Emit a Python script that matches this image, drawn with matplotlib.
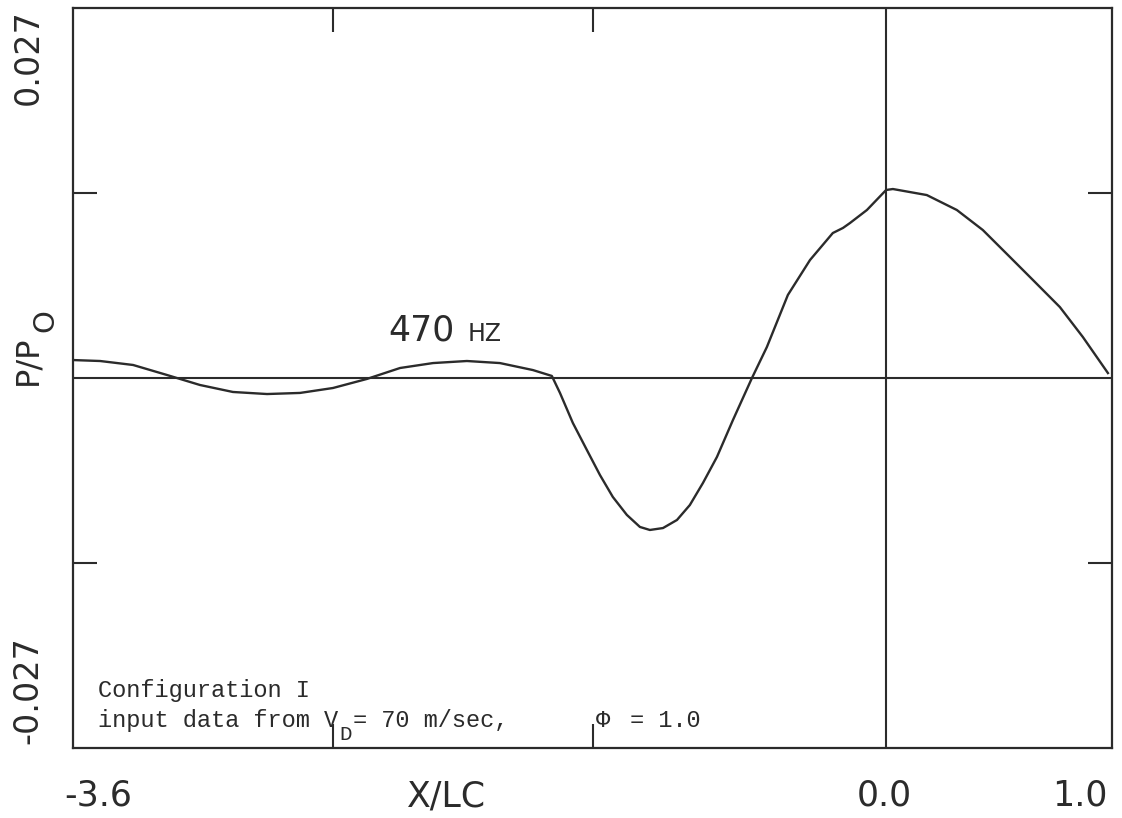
import matplotlib
matplotlib.use("Agg")
import matplotlib.pyplot as plt

# Pressure trace P/P0 along X/LC
x_lc = [-3.60, -3.48, -3.334, -3.184, -3.038, -2.892, -2.741, -2.595, -2.449,
        -2.299, -2.152, -2.006, -1.856, -1.710, -1.564, -1.480,
        -1.444, -1.387, -1.325, -1.267, -1.210, -1.148, -1.090, -1.046,
        -0.988, -0.926, -0.869, -0.811, -0.749, -0.678, -0.594, -0.528,
        -0.435, -0.337, -0.236, -0.191, -0.160, -0.085, 0.0,
        0.03, 0.18, 0.313, 0.428, 0.548, 0.65, 0.769, 0.871, 0.982]
p_p0 = [0.00131, 0.00124, 0.00095, 0.00022, -0.00051, -0.00102, -0.00117,
        -0.00109, -0.00073, -0.00007, 0.00073, 0.00109, 0.00124, 0.00109,
        0.00058, 0.00015,
        -0.00109, -0.00328, -0.00525, -0.00708, -0.00868, -0.00999, -0.01087,
        -0.01109, -0.01095, -0.01036, -0.00927, -0.00766, -0.00576, -0.00306,
        0.0, 0.00226,
        0.00606, 0.00861, 0.01058, 0.01095, 0.01131, 0.01226, 0.01372,
        0.01379, 0.01335, 0.01226, 0.01080, 0.00883, 0.00715, 0.00518,
        0.00299, 0.00036]

x_lim = (-3.6, 1.0)
y_lim = (-0.027, 0.027)
x_ticks = [-2.45, -1.3]
y_ticks = [-0.0135, 0.0135]

W, H = 1122, 818
ink = "#2b2b2b"
sans = ["DejaVu Sans"]
mono = ["Liberation Mono", "DejaVu Sans Mono"]

fig = plt.figure(figsize=(W / 100, H / 100), dpi=100)
ax = fig.add_axes([73 / W, 1 - 748 / H, 1039 / W, 740 / H])

ax.plot(x_lc, p_p0, color=ink, lw=1.7, solid_joinstyle="round")
ax.axhline(0, color=ink, lw=1.5)
ax.axvline(0, color=ink, lw=1.5)

ax.set_xlim(*x_lim)
ax.set_ylim(*y_lim)
ax.set_xticks(x_ticks)
ax.set_yticks(y_ticks)
ax.tick_params(direction="in", length=17, width=1.5, color=ink,
               top=True, right=True, labelbottom=False, labelleft=False)
for s in ax.spines.values():
    s.set_color(ink)
    s.set_linewidth(1.6)


def fpos(px, py):
    return px / W, 1 - py / H


# axis labels and end values
fig.text(*fpos(98, 806), "-3.6", family=sans, fontsize=25, color=ink,
         ha="center", va="baseline")
fig.text(*fpos(447, 806), "X/LC", family=sans, fontsize=25, color=ink,
         ha="center", va="baseline")
fig.text(*fpos(884, 806), "0.0", family=sans, fontsize=25, color=ink,
         ha="center", va="baseline")
fig.text(*fpos(1080, 806), "1.0", family=sans, fontsize=25, color=ink,
         ha="center", va="baseline")

fig.text(*fpos(28, 57), "0.027", family=sans, fontsize=24, color=ink,
         rotation=90, ha="center", va="center")
fig.text(*fpos(28, 690), "-0.027", family=sans, fontsize=24, color=ink,
         rotation=90, ha="center", va="center")
fig.text(*fpos(28, 360), "P/P", family=sans, fontsize=23, color=ink,
         rotation=90, ha="center", va="center")
fig.text(*fpos(45, 321), "O", family=sans, fontsize=21, color=ink,
         rotation=90, ha="center", va="center")

# frequency label
fig.text(*fpos(388, 341), "470", family=sans, fontsize=25, color=ink,
         ha="left", va="baseline")
fig.text(*fpos(468, 341), "HZ", family=sans, fontsize=17, color=ink,
         ha="left", va="baseline")

# run description
fig.text(*fpos(98, 697), "Configuration I", family=mono, fontsize=17,
         color=ink, ha="left", va="baseline")
fig.text(*fpos(98, 727), "input data from V", family=mono, fontsize=17,
         color=ink, ha="left", va="baseline")
fig.text(*fpos(339, 740), "D", family=mono, fontsize=15, color=ink,
         ha="left", va="baseline")
fig.text(*fpos(353, 727), "= 70 m/sec,", family=mono, fontsize=17,
         color=ink, ha="left", va="baseline")
fig.text(*fpos(596, 727), "Φ", family=mono, fontsize=17, color=ink,
         ha="left", va="baseline")
fig.text(*fpos(630, 727), "= 1.0", family=mono, fontsize=17, color=ink,
         ha="left", va="baseline")

fig.savefig("out.png", dpi=100)
